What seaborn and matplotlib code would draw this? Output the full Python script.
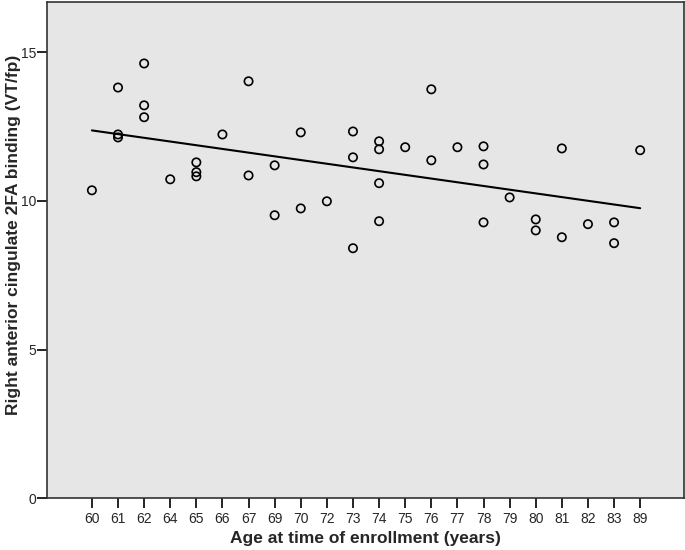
import matplotlib
matplotlib.use("Agg")
import matplotlib.pyplot as plt
import seaborn as sns
import numpy as np
import pandas as pd

age_categories = [60, 61, 62, 64, 65, 66, 67, 69, 70, 72, 73, 74, 75, 76, 77, 78, 79, 80, 81, 82, 83, 89]

ages = [60, 61, 61, 61, 62, 62, 62, 64, 65, 65, 65, 66, 67, 67, 69, 69, 70, 70, 72,
        73, 73, 73, 74, 74, 74, 74, 75, 76, 76, 77, 78, 78, 78, 79, 80, 80, 81, 81,
        82, 83, 83, 89]
binding = [10.36, 13.82, 12.24, 12.14, 14.63, 13.22, 12.82, 10.73, 11.30, 10.97, 10.83,
           12.24, 14.03, 10.86, 11.20, 9.52, 12.31, 9.75, 9.99,
           12.34, 11.47, 8.41, 12.01, 11.74, 10.60, 9.32, 11.81, 13.76, 11.37, 11.81,
           11.84, 11.23, 9.28, 10.12, 9.38, 9.01, 11.77, 8.78, 9.22, 9.28, 8.58, 11.71]

y_ticks = [0, 5, 10, 15]

df = pd.DataFrame({"age": ages, "binding": binding})
df["pos"] = df["age"].map({a: i for i, a in enumerate(age_categories)})

sns.set_style("white")
plt.rcParams["font.family"] = ["Liberation Sans", "DejaVu Sans"]

fig = plt.figure(figsize=(6.85, 5.5), dpi=100)
ax = fig.add_axes([0.0686, 0.0945, 0.930, 0.9019])
ax.set_facecolor("#E6E6E6")

sns.regplot(data=df, x="pos", y="binding", ax=ax, scatter=False, ci=None,
            truncate=True, line_kws=dict(color="black", lw=1.5))
sns.scatterplot(data=df, x="pos", y="binding", ax=ax, marker="o",
                facecolor="none", edgecolor="black", linewidth=1.2, s=36, zorder=3)

ax.set_xlim(-1.72, 22.68)
ax.set_ylim(0, 16.7)
ax.set_xticks(range(len(age_categories)))
ax.set_xticklabels([str(a) for a in age_categories])
ax.set_yticks(y_ticks)
ax.tick_params(axis="both", direction="out", length=7, width=1.2, color="black",
               labelsize=10, bottom=True, left=True)
ax.tick_params(axis="y", pad=0.5)
ax.tick_params(axis="x", pad=3)
for sp in ax.spines.values():
    sp.set_color("#333333")
    sp.set_linewidth(1.2)

ax.set_xlabel("Age at time of enrollment (years)", fontsize=12.5, fontweight="bold")
ax.set_ylabel("Right anterior cingulate 2FA binding (VT/fp)", fontsize=12.5, fontweight="bold")
ax.xaxis.set_label_coords(0.5, -0.066)
ax.yaxis.set_label_coords(-0.041, 0.53)

fig.savefig("out.png", dpi=100)
